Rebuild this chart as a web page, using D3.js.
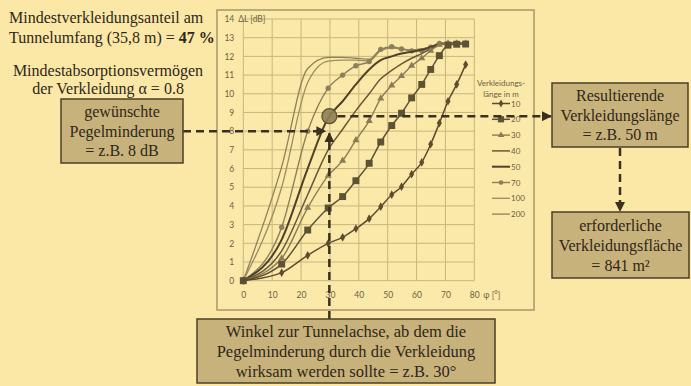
<!DOCTYPE html>
<html>
<head>
<meta charset="utf-8">
<script src="https://cdn.jsdelivr.net/npm/d3@7"></script>
<style>
  html, body { margin: 0; padding: 0; background: #fbe8a6; }
  svg { display: block; }
</style>
</head>
<body>
<div id="chart"></div>
<script>
// Angle to tunnel axis (x values shared by all series)
const phi = [0, 13.3, 22.3, 29.4, 34.4, 39, 43.6, 47.6, 51.4, 54.8, 58.3, 61.8, 64.9, 67.9, 70.9, 73.9, 77.0];

// Level reduction ΔL [dB] per lining length
const s10  = [0, 0.43, 1.36, 2.0, 2.32, 2.78, 3.32, 3.96, 4.6, 5.03, 5.7, 6.33, 7.3, 8.43, 9.6, 10.5, 11.56];
const s20  = [0, 0.89, 2.71, 3.89, 4.5, 5.35, 6.28, 7.42, 8.3, 8.96, 9.78, 10.5, 11.3, 12.04, 12.6, 12.65, 12.66];
const s30  = [0, 1.2, 3.9, 5.62, 6.42, 7.52, 8.55, 9.75, 10.45, 10.95, 11.5, 11.9, 12.3, 12.62, 12.7, 12.7, 12.7];
const s40  = [0, 1.6, 4.6, 7.0, 8.1, 9.1, 10.0, 10.8, 11.25, 11.6, 11.9, 12.15, 12.4, 12.6, 12.7, 12.7, 12.7];
const s50  = [0, 2.2, 6.0, 8.7, 9.6, 10.5, 11.3, 11.8, 12.0, 12.15, 12.25, 12.35, 12.5, 12.65, 12.7, 12.7, 12.7];
const s70  = [0, 2.86, 8.0, 10.3, 11.0, 11.5, 11.72, 12.38, 12.52, 12.4, 12.3, 12.3, 12.49, 12.7, 12.7, 12.7, 12.7];
const s100 = [0, 5.0, 10.6, 11.75, 11.8, 11.8, 11.75, 12.3, 12.45, 12.4, 12.35, 12.4, 12.5, 12.65, 12.7, 12.7, 12.7];
const s200 = [0, 6.1, 11.35, 11.95, 11.95, 11.9, 11.85, 12.35, 12.45, 12.4, 12.35, 12.4, 12.5, 12.65, 12.7, 12.7, 12.7];

const seriesNames = ['10', '20', '30', '40', '50', '70', '100', '200'];
const seriesValues = [s10, s20, s30, s40, s50, s70, s100, s200];

const xTicks = [0, 10, 20, 30, 40, 50, 60, 70, 80];
const yTicks = d3.range(0, 15);

// Example reading
const targetAngle = 29.8;
const targetLevel = 8;
const hitLevel = 8.8;

const headerLines = ['Mindestverkleidungsanteil am', 'Tunnelumfang (35,8 m) = 47 %'];
const alphaLines = ['Mindestabsorptionsvermögen', 'der Verkleidung α = 0.8'];
const boxLeft = ['gewünschte', 'Pegelminderung', '= z.B. 8 dB'];
const boxResult = ['Resultierende', 'Verkleidungslänge', '= z.B. 50 m'];
const boxArea = ['erforderliche', 'Verkleidungsfläche', '= 841 m²'];
const boxAngle = ['Winkel zur Tunnelachse, ab dem die', 'Pegelminderung durch die Verkleidung', 'wirksam werden sollte = z.B. 30°'];

const width = 691, height = 386;
const svg = d3.select('#chart').append('svg')
    .attr('width', width)
    .attr('height', height);

svg.append('rect').attr('width', width).attr('height', height).attr('fill', '#fbe8a6');

const defs = svg.append('defs');
defs.append('marker')
    .attr('id', 'arrow')
    .attr('viewBox', '0 0 10 10')
    .attr('refX', 9).attr('refY', 5)
    .attr('markerWidth', 4).attr('markerHeight', 4)
    .attr('orient', 'auto')
  .append('path')
    .attr('d', 'M0,0 L10,5 L0,10 Z')
    .attr('fill', '#3a3020');

// Chart panel
svg.append('rect')
    .attr('x', 217).attr('y', 10)
    .attr('width', 317).attr('height', 300)
    .attr('fill', '#fbe9aa')
    .attr('stroke', '#a8976a')
    .attr('stroke-width', 1.5);

const x = d3.scaleLinear().domain([0, 80]).range([243.3, 474.3]);
const y = d3.scaleLinear().domain([0, 14]).range([280.7, 19]);

// Grid
const grid = svg.append('g').attr('class', 'grid');
grid.selectAll('.h')
    .data(yTicks)
  .enter().append('line')
    .attr('x1', x(0)).attr('x2', x(80))
    .attr('y1', d => y(d)).attr('y2', d => y(d))
    .attr('stroke', '#c9b57c').attr('stroke-width', 1);
grid.selectAll('.v')
    .data(xTicks)
  .enter().append('line')
    .attr('x1', d => x(d)).attr('x2', d => x(d))
    .attr('y1', y(0)).attr('y2', y(14))
    .attr('stroke', '#c9b57c').attr('stroke-width', 1);

// Axes (labels only, like the original)
const axisFont = 'Lato, "Liberation Sans", sans-serif';
const yAxis = svg.append('g')
    .attr('transform', `translate(${x(0) - 9},0)`)
    .call(d3.axisLeft(y).tickValues(yTicks).tickSize(0).tickPadding(0));
yAxis.select('.domain').remove();
yAxis.selectAll('text')
    .attr('font-family', axisFont).attr('font-size', 8.5).attr('fill', '#6b5f40');

const xAxis = svg.append('g')
    .attr('transform', `translate(0,${y(0) + 11})`)
    .call(d3.axisBottom(x).tickValues(xTicks).tickSize(0).tickPadding(0));
xAxis.select('.domain').remove();
xAxis.selectAll('text')
    .attr('font-family', axisFont).attr('font-size', 8.5).attr('fill', '#6b5f40');

svg.append('text')
    .attr('x', x(0) - 5).attr('y', y(14) + 3)
    .attr('font-family', axisFont).attr('font-size', 8.5).attr('fill', '#6b5f40')
    .text('ΔL [dB]');
svg.append('text')
    .attr('x', x(80) + 9).attr('y', y(0) + 17)
    .attr('font-family', axisFont).attr('font-size', 8.5).attr('fill', '#6b5f40')
    .text('φ [°]');

// Series styles
const styles = {
    '10':  { color: '#5c4d2e', width: 1.5, symbol: d3.symbolDiamond, size: 22 },
    '20':  { color: '#5e5234', width: 1.5, symbol: d3.symbolSquare, size: 48 },
    '30':  { color: '#8a7d55', width: 1.4, symbol: d3.symbolTriangle, size: 22 },
    '40':  { color: '#66583a', width: 1.5, symbol: null },
    '50':  { color: '#4e4228', width: 2.0, symbol: null },
    '70':  { color: '#8c7f5a', width: 1.4, symbol: d3.symbolCircle, size: 22 },
    '100': { color: '#9a8c64', width: 1.3, symbol: null },
    '200': { color: '#8e8058', width: 1.3, symbol: null }
};

const series = seriesNames.map((name, i) => ({
    name: name,
    points: phi.map((p, j) => ({ phi: p, dl: seriesValues[i][j] }))
}));

const line = d3.line()
    .x(d => x(d.phi))
    .y(d => y(d.dl))
    .curve(d3.curveMonotoneX);

const drawOrder = ['200', '100', '70', '50', '40', '30', '20', '10'];
drawOrder.forEach(name => {
    const s = series.find(d => d.name === name);
    const st = styles[name];
    svg.append('path')
        .datum(s.points)
        .attr('fill', 'none')
        .attr('stroke', st.color)
        .attr('stroke-width', st.width)
        .attr('d', line);
    if (st.symbol) {
        svg.selectAll(null)
            .data(s.points)
          .enter().append('path')
            .attr('transform', d => `translate(${x(d.phi)},${y(d.dl)})`)
            .attr('d', d3.symbol().type(st.symbol).size(st.size))
            .attr('fill', st.color);
    }
});

// Legend
const legend = svg.append('g').attr('font-family', axisFont).attr('font-size', 8).attr('fill', '#6b5f40');
legend.append('text').attr('x', 501).attr('y', 86).attr('text-anchor', 'middle').text('Verkleidungs-');
legend.append('text').attr('x', 501).attr('y', 97).attr('text-anchor', 'middle').text('länge in m');
seriesNames.forEach((name, i) => {
    const st = styles[name];
    const ly = 103.5 + i * 15.8;
    legend.append('line')
        .attr('x1', 492).attr('x2', 510)
        .attr('y1', ly).attr('y2', ly)
        .attr('stroke', st.color).attr('stroke-width', st.width);
    if (st.symbol) {
        legend.append('path')
            .attr('transform', `translate(501,${ly})`)
            .attr('d', d3.symbol().type(st.symbol).size(st.size * 0.8))
            .attr('fill', st.color);
    }
    legend.append('text').attr('x', 511).attr('y', ly + 3).text(name);
});

// Text boxes
const serif = '"Liberation Serif", "DejaVu Serif", serif';
function box(x0, y0, w, h, lines, lineGap, fs) {
    svg.append('rect')
        .attr('x', x0).attr('y', y0).attr('width', w).attr('height', h)
        .attr('fill', '#c8b27b').attr('stroke', '#4a3f2a').attr('stroke-width', 1.5);
    const cx = x0 + w / 2;
    const top = y0 + h / 2 - (lines.length - 1) * lineGap / 2;
    lines.forEach((t, i) => {
        svg.append('text')
            .attr('x', cx).attr('y', top + i * lineGap)
            .attr('dy', '0.35em')
            .attr('text-anchor', 'middle')
            .attr('font-family', serif).attr('font-size', fs)
            .attr('fill', '#2e2618')
            .text(t);
    });
}

// Dashed guides
const dash = '8,5';
svg.append('line')
    .attr('x1', 183).attr('x2', x(targetAngle) - 4)
    .attr('y1', y(targetLevel)).attr('y2', y(targetLevel))
    .attr('stroke', '#3a3020').attr('stroke-width', 2.5).attr('stroke-dasharray', dash)
    .attr('marker-end', 'url(#arrow)');
svg.append('line')
    .attr('x1', x(targetAngle)).attr('x2', x(targetAngle))
    .attr('y1', 319).attr('y2', y(targetLevel) + 2)
    .attr('stroke', '#3a3020').attr('stroke-width', 2.5).attr('stroke-dasharray', dash)
    .attr('marker-end', 'url(#arrow)');
svg.append('line')
    .attr('x1', x(targetAngle) + 8).attr('x2', 551)
    .attr('y1', y(hitLevel)).attr('y2', y(hitLevel))
    .attr('stroke', '#3a3020').attr('stroke-width', 2.5).attr('stroke-dasharray', dash)
    .attr('marker-end', 'url(#arrow)');
svg.append('line')
    .attr('x1', 620).attr('x2', 620)
    .attr('y1', 148).attr('y2', 211)
    .attr('stroke', '#3a3020').attr('stroke-width', 2.5).attr('stroke-dasharray', dash)
    .attr('marker-end', 'url(#arrow)');

svg.append('circle')
    .attr('cx', x(targetAngle)).attr('cy', y(hitLevel)).attr('r', 7.5)
    .attr('fill', '#8e7f55').attr('stroke', '#5a4c30').attr('stroke-width', 1.2)
    .attr('fill-opacity', 0.9);

box(61, 99, 122, 64, boxLeft, 19.5, 16);
box(552, 83, 136, 64, boxResult, 19.5, 16);
box(552, 212, 137, 66, boxArea, 20, 16);
box(197, 319, 298, 64, boxAngle, 20, 16.5);

// Header texts
headerLines.forEach((t, i) => {
    const txt = svg.append('text')
        .attr('x', 9).attr('y', 17 + i * 20)
        .attr('dy', '0.35em')
        .attr('font-family', serif).attr('font-size', 16)
        .attr('fill', '#2e2618');
    if (i === 1) {
        txt.append('tspan').text(t.replace('47 %', ''));
        txt.append('tspan').attr('font-weight', 'bold').text('47 %');
    } else {
        txt.text(t);
    }
});
alphaLines.forEach((t, i) => {
    svg.append('text')
        .attr('x', 108).attr('y', 70 + i * 18)
        .attr('dy', '0.35em')
        .attr('text-anchor', 'middle')
        .attr('font-family', serif).attr('font-size', 16)
        .attr('fill', '#2e2618')
        .text(t);
});
</script>
</body>
</html>
